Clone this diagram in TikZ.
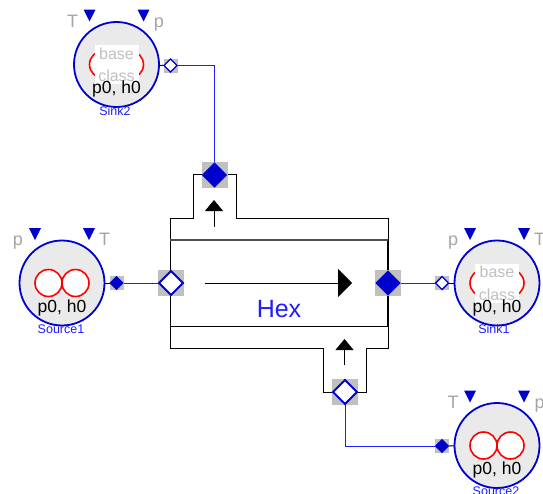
\documentclass[tikz,border=0pt]{standalone}
\usepackage{fontspec}
\setmainfont{Liberation Sans}
\usetikzlibrary{shapes.geometric,arrows.meta,backgrounds}
\definecolor{dblue}{RGB}{0,0,205}
\definecolor{lblue}{RGB}{30,30,255}
\definecolor{bodygray}{RGB}{234,234,234}
\definecolor{portgray}{RGB}{192,192,192}
\definecolor{labgray}{RGB}{165,165,165}
\definecolor{basegray}{RGB}{192,192,192}
\tikzset{
  every node/.style={inner sep=0pt,outer sep=0pt},
  devbody/.style={circle,draw=dblue,fill=bodygray,line width=1.8pt,minimum size=85pt},
  redring/.style={circle,draw=red,fill=white,line width=1.6pt,minimum size=27pt},
  whitebox/.style={fill=white,minimum width=44pt,minimum height=39pt},
  basetext/.style={anchor=base,text=basegray,font=\fontsize{16}{16}\selectfont},
  ptext/.style={anchor=base,text=black,font=\fontsize{17.5}{17.5}\selectfont},
  siglabel/.style={anchor=base,text=labgray,font=\fontsize{18}{18}\selectfont},
  caption/.style={text=lblue,font=\fontsize{12.5}{12.5}\selectfont},
  sq/.style={fill=portgray,minimum size=#1},
  bigfilled/.style={diamond,fill=dblue,draw=dblue,line width=1pt,minimum size=24pt},
  bigopen/.style={diamond,fill=white,draw=dblue,line width=2pt,minimum size=24pt},
  smallfilled/.style={diamond,fill=dblue,draw=dblue,line width=.8pt,minimum size=13pt},
  smallopen/.style={diamond,fill=white,draw=dblue,line width=1.4pt,minimum size=13pt},
  wire/.style={draw=lblue,line width=.8pt},
  stub/.style={draw=black,line width=.9pt},
  hexline/.style={draw=black,line width=1pt},
  flow/.style={draw=black,line width=1pt,-{Triangle[length=14pt,width=28pt]}},
  smallflow/.style={draw=black,line width=1pt,-{Triangle[length=11pt,width=18pt]}},
  sigtip/.style={fill=dblue}
}
% name, x, y, left sig, right sig, caption, caption dx, caption dy
\newcommand\devcore[8]{%
  \begin{scope}[shift={(#2,#3)}]
    \node[devbody] (#1) at (0,0) {};
    \node[redring] (#1-ringa) at (-13.5,0) {};
    \node[redring] (#1-ringb) at (13.5,0) {};
    \fill[sigtip] (-33,-55) -- (-21,-55) -- (-27,-43) -- cycle;
    \fill[sigtip] (21,-55) -- (33,-55) -- (27,-43) -- cycle;
    \node[siglabel] (#1-left) at (-44,-37.5) {#4};
    \node[siglabel] (#1-right) at (42.5,-37.5) {#5};
    \node[caption] (#1-cap) at (#7,#8) {#6};
  \end{scope}}
\newcommand\devp[3]{%
  \begin{scope}[shift={(#2,#3)}]
    \node[ptext] (#1-p) at (0,29) {p0, h0};
  \end{scope}}
\newcommand\devbase[3]{%
  \begin{scope}[shift={(#2,#3)}]
    \node[whitebox] (#1-box) at (0,0) {};
    \node[basetext] (#1-base) at (0,-5.5) {base};
    \node[basetext] (#1-class) at (0,17) {class};
  \end{scope}}
\begin{document}
\begin{tikzpicture}[x=1pt,y=-1pt]
\useasboundingbox (0,0) rectangle (543,493);
% heat exchanger outline
\draw[hexline] (170,240) -- (388,240) -- (388,326) -- (170,326) -- cycle;
\draw[hexline] (170,240) -- (170,218) -- (193,218) -- (193,174) -- (236,174) -- (236,218) -- (388,218) -- (388,240);
\draw[hexline] (170,326) -- (170,348) -- (323,348) -- (323,392) -- (366,392) -- (366,348) -- (388,348) -- (388,326);
\draw[draw=black,line width=2pt] (388,240) -- (388,326);
\draw[draw=black!70,line width=1.6pt] (170,240) -- (388,240);
\coordinate (mainA) at (205,283);
\coordinate (mainB) at (352,283);
\coordinate (upA) at (214,227);
\coordinate (upB) at (214,200);
\coordinate (inA) at (344.5,365);
\coordinate (inB) at (344.5,339);
\draw[flow] (mainA) -- (mainB);
\draw[smallflow] (upA) -- (upB);
\draw[smallflow] (inA) -- (inB);
\node[text=lblue,font=\fontsize{25}{25}\selectfont] (hexlabel) at (279,309) {Hex};
% big ports
\node[sq=26pt] (leftbg) at (171,283) {};
\node[bigopen] (leftport) at (171,283) {};
\node[sq=26pt] (rightbg) at (388,283) {};
\node[bigfilled] (rightport) at (388,283) {};
\node[sq=26pt] (topbg) at (214.5,175) {};
\node[bigfilled] (topport) at (214.5,175) {};
\node[sq=26pt] (botbg) at (345,392) {};
\node[bigopen] (botport) at (345,392) {};
% devices
\devcore{sinktwo}{116.5}{64.5}{T}{p}{Sink2}{-1.5}{47}
\devbase{sinktwo}{116.5}{64.5}
\devp{sinktwo}{116.5}{64.5}
\devcore{sourceone}{62}{283}{p}{T}{Source1}{-1}{46}
\devp{sourceone}{62}{283}
\devcore{sinkone}{497}{283}{p}{T}{Sink1}{-3}{46}
\devbase{sinkone}{497}{283}
\devp{sinkone}{497}{283}
\devcore{sourcetwo}{497}{445.5}{T}{p}{Source2}{-1}{46}
\devp{sourcetwo}{497}{445.5}
% small ports
\node[sq=14pt] (stwobg) at (170.5,65.5) {};
\node[smallopen] (stwoport) at (170.5,65.5) {};
\node[sq=14pt] (soonebg) at (116.5,283) {};
\node[smallfilled] (sooneport) at (116.5,283) {};
\node[sq=14pt] (sionebg) at (442,283) {};
\node[smallopen] (sioneport) at (442,283) {};
\node[sq=14pt] (sotwobg) at (442,446) {};
\node[smallfilled] (sotwoport) at (442,446) {};
% connectors
\begin{scope}[on background layer]
\draw[wire] (stwoport.center) -| (topport.center);
\draw[wire] (sooneport.center) -- (leftport.center);
\draw[wire] (rightport.center) -- (sioneport.center);
\draw[wire] (botport.center) |- (sotwoport.center);
\draw[stub] (sinktwo.center) -- (stwoport.center);
\draw[stub] (sourceone.center) -- (sooneport.center);
\draw[stub] (sinkone.center) -- (sioneport.center);
\draw[stub] (sourcetwo.center) -- (sotwoport.center);
\end{scope}
\end{tikzpicture}
\end{document}
